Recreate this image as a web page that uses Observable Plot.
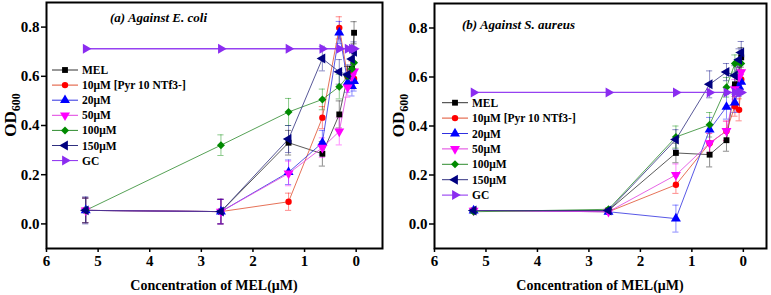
<!DOCTYPE html>
<html><head><meta charset="utf-8">
<script src="https://cdn.jsdelivr.net/npm/d3@7"></script>
<script src="https://cdn.jsdelivr.net/npm/@observablehq/plot@0.6"></script>
<style>
body{margin:0;background:#fff}
#wrap{display:flex;width:771px;height:295px}
#wrap svg, #wrap svg text{font-family:"Liberation Serif","Times New Roman",serif !important;color:#000}
</style></head><body><div id="wrap"></div>
<script>
// ---------- data ----------
const conc = [5.24, 2.62, 1.31, 0.655, 0.3275, 0.164, 0.082, 0.041];
const seriesNames = ["MEL", "10μM [Pyr 10 NTf3-]", "20μM", "50μM", "100μM", "150μM", "GC"];
const seriesColors = ["#000000", "#ff0000", "#0000ff", "#ff00ff", "#008a00", "#000080", "#8b2cf0"];
const lineColors = ["#333333", "#e05030", "#3030e0", "#e040e0", "#2e8b2e", "#303080", "#8b2cf0"];
const xTicks = [0, 1, 2, 3, 4, 5, 6];
const yTicks = [0, 0.2, 0.4, 0.6, 0.8];

// (a) Against E. coli
const ecoliMEL  = [0.055, 0.050, 0.330, 0.285, 0.445, 0.600, 0.630, 0.777];
const ecoli10   = [0.055, 0.050, 0.090, 0.432, 0.797, 0.600, 0.622, 0.590];
const ecoli20   = [0.055, 0.050, 0.210, 0.330, 0.778, 0.575, 0.560, 0.580];
const ecoli50   = [0.055, 0.050, 0.205, 0.310, 0.376, 0.555, 0.600, 0.620];
const ecoli100  = [0.055, 0.320, 0.455, 0.506, 0.558, 0.600, 0.630, 0.655];
const ecoli150  = [0.055, 0.050, 0.345, 0.672, 0.618, 0.606, 0.670, 0.700];
const ecoliGC   = [0.712, 0.712, 0.712, 0.712, 0.712, 0.712, 0.712, 0.712];
const ecoliErrMEL = [0.050, 0.050, 0.050, 0.050, 0.055, 0.040, 0.040, 0.045];
const ecoliErr10  = [0.050, 0.050, 0.035, 0.045, 0.045, 0.040, 0.040, 0.040];
const ecoliErr20  = [0.050, 0.050, 0.050, 0.050, 0.045, 0.040, 0.040, 0.040];
const ecoliErr50  = [0.050, 0.050, 0.050, 0.040, 0.055, 0.040, 0.040, 0.040];
const ecoliErr100 = [0.050, 0.042, 0.055, 0.042, 0.050, 0.040, 0.040, 0.040];
const ecoliErr150 = [0.055, 0.050, 0.055, 0.050, 0.050, 0.040, 0.040, 0.040];
const ecoliErrGC  = [0, 0, 0, 0, 0, 0, 0, 0];

// (b) Against S. aureus
const saurMEL  = [0.055, 0.055, 0.290, 0.283, 0.342, 0.570, 0.600, 0.680];
const saur10   = [0.055, 0.050, 0.160, 0.330, 0.380, 0.480, 0.466, 0.590];
const saur20   = [0.055, 0.050, 0.022, 0.385, 0.478, 0.495, 0.560, 0.580];
const saur50   = [0.055, 0.050, 0.200, 0.330, 0.380, 0.550, 0.600, 0.620];
const saur100  = [0.050, 0.060, 0.355, 0.405, 0.558, 0.655, 0.660, 0.655];
const saur150  = [0.055, 0.055, 0.345, 0.570, 0.620, 0.606, 0.670, 0.700];
const saurGC   = [0.537, 0.537, 0.537, 0.537, 0.537, 0.537, 0.537, 0.537];
const saurErrMEL = [0.005, 0.005, 0.040, 0.050, 0.045, 0.040, 0.040, 0.040];
const saurErr10  = [0.005, 0.005, 0.035, 0.040, 0.040, 0.040, 0.045, 0.040];
const saurErr20  = [0.005, 0.005, 0.055, 0.050, 0.050, 0.040, 0.040, 0.040];
const saurErr50  = [0.005, 0.005, 0.045, 0.040, 0.040, 0.040, 0.040, 0.040];
const saurErr100 = [0.005, 0.005, 0.045, 0.050, 0.040, 0.035, 0.040, 0.040];
const saurErr150 = [0.005, 0.005, 0.040, 0.055, 0.035, 0.040, 0.045, 0.045];
const saurErrGC  = [0, 0, 0, 0, 0, 0, 0, 0];

// ---------- symbols ----------
function tri(rot) {
  return {draw(ctx, size) {
    const s = Math.sqrt(size * 4 / Math.sqrt(3)), h = s * Math.sqrt(3) / 2;
    let pts = [[0, -2 * h / 3], [s / 2, h / 3], [-s / 2, h / 3]];
    const a = rot * Math.PI / 180, c = Math.cos(a), sn = Math.sin(a);
    pts = pts.map(([x, y]) => [x * c - y * sn, x * sn + y * c]);
    ctx.moveTo(pts[0][0], pts[0][1]);
    ctx.lineTo(pts[1][0], pts[1][1]);
    ctx.lineTo(pts[2][0], pts[2][1]);
    ctx.closePath();
  }};
}
const seriesSymbols = [d3.symbolSquare, d3.symbolCircle, tri(0), tri(180), d3.symbolDiamond2, tri(-90), tri(90)];
const seriesR = [3.3, 3.2, 3.7, 3.7, 3.6, 3.7, 3.7];
const FONT = '"Liberation Serif","Times New Roman",serif';

function rowsFor(vals, errs) {
  const rows = [];
  vals.forEach((v, si) => conc.forEach((c, i) => rows.push({s: si, x: c, y: v[i], e: errs[si][i]})));
  return rows;
}

function panel({title, vals, errs, width, ml, mr, mt, xmin, legendX, legendY0, legendDy, titleX, titleY}) {
  const rows = rowsFor(vals, errs);
  const marks = [];
  const cap = 0.06;
  seriesNames.forEach((n, si) => {
    const de = rows.filter(r => r.s === si && r.e > 0);
    const o = {stroke: seriesColors[si], strokeOpacity: 0.45, strokeWidth: 1};
    marks.push(Plot.ruleX(de, {x: "x", y1: r => r.y - r.e, y2: r => r.y + r.e, ...o}));
    marks.push(Plot.ruleY(de, {y: r => r.y + r.e, x1: r => r.x + cap, x2: r => r.x - cap, ...o}));
    marks.push(Plot.ruleY(de, {y: r => r.y - r.e, x1: r => r.x + cap, x2: r => r.x - cap, ...o}));
  });
  seriesNames.forEach((n, si) => {
    const d = rows.filter(r => r.s === si);
    marks.push(Plot.line(d, {x: "x", y: "y", stroke: lineColors[si], strokeWidth: si === 6 ? 1.3 : 0.9, strokeOpacity: 0.9}));
  });
  seriesNames.forEach((n, si) => {
    const d = rows.filter(r => r.s === si);
    marks.push(Plot.dot(d, {x: "x", y: "y", symbol: seriesSymbols[si], r: seriesR[si], fill: seriesColors[si], stroke: "none"}));
  });
  marks.push(Plot.frame({stroke: "#000", strokeWidth: 2}));
  marks.push(Plot.axisX({ticks: xTicks, tickSize: 4, tickPadding: 3, tickFormat: d3.format("d"), label: null, fontFamily: FONT, fontWeight: "bold", fontSize: 15, strokeWidth: 1.5}));
  marks.push(Plot.axisY({ticks: yTicks, tickSize: 5, tickPadding: 2, tickFormat: d3.format(".1f"), label: null, fontFamily: FONT, fontWeight: "bold", fontSize: 15, strokeWidth: 1.5}));
  const svg = Plot.plot({
    width, height: 295,
    marginLeft: ml, marginRight: mr, marginTop: mt, marginBottom: 47,
    x: {domain: [6, xmin]},
    y: {domain: [-0.1, 0.9]},
    style: {fontFamily: FONT, fontSize: "15px", color: "#000", background: "#fff"},
    marks
  });
  const g = d3.select(svg);
  g.selectAll("text").attr("font-family", FONT).style("font-family", FONT);
  const txt = () => g.append("text").attr("font-family", FONT).attr("fill", "#000").attr("font-weight", "bold");
  // title
  txt().attr("x", titleX).attr("y", titleY).attr("text-anchor", "start").attr("font-size", 13).attr("font-style", "italic").text(title);
  // y label
  const yl = txt().attr("transform", `translate(${ml - 30},${(mt + 248) / 2 - 10}) rotate(-90)`).attr("text-anchor", "middle").attr("font-size", 17);
  yl.append("tspan").text("OD");
  yl.append("tspan").attr("font-size", 12).attr("dy", 4).text("600");
  // x label
  txt().attr("x", (ml + width - mr) / 2).attr("y", 290).attr("text-anchor", "middle").attr("font-size", 14).text("Concentration of MEL(μM)");
  // legend
  seriesNames.forEach((n, si) => {
    const y = legendY0 + si * legendDy;
    g.append("line").attr("x1", legendX).attr("x2", legendX + 26).attr("y1", y).attr("y2", y).attr("stroke", lineColors[si]).attr("stroke-width", 1);
    g.append("path").attr("transform", `translate(${legendX + 13},${y})`).attr("d", d3.symbol(seriesSymbols[si], Math.PI * seriesR[si] * seriesR[si])()).attr("fill", seriesColors[si]);
    txt().attr("x", legendX + 30).attr("y", y + 4).attr("text-anchor", "start").attr("font-size", 11.5).text(n);
  });
  return svg;
}

const wrap = document.getElementById("wrap");
wrap.appendChild(panel({
  title: "(a) Against E. coli",
  vals: [ecoliMEL, ecoli10, ecoli20, ecoli50, ecoli100, ecoli150, ecoliGC],
  errs: [ecoliErrMEL, ecoliErr10, ecoliErr20, ecoliErr50, ecoliErr100, ecoliErr150, ecoliErrGC],
  width: 385, ml: 46, mr: 3, mt: 2, xmin: -0.51,
  legendX: 52, legendY0: 70, legendDy: 15.1, titleX: 110, titleY: 22
}));
wrap.appendChild(panel({
  title: "(b) Against S. aureus",
  vals: [saurMEL, saur10, saur20, saur50, saur100, saur150, saurGC],
  errs: [saurErrMEL, saurErr10, saurErr20, saurErr50, saurErr100, saurErr150, saurErrGC],
  width: 386, ml: 49, mr: 5, mt: 3, xmin: -0.45,
  legendX: 57, legendY0: 102.7, legendDy: 15.4, titleX: 77, titleY: 29
}));
</script></body></html>
